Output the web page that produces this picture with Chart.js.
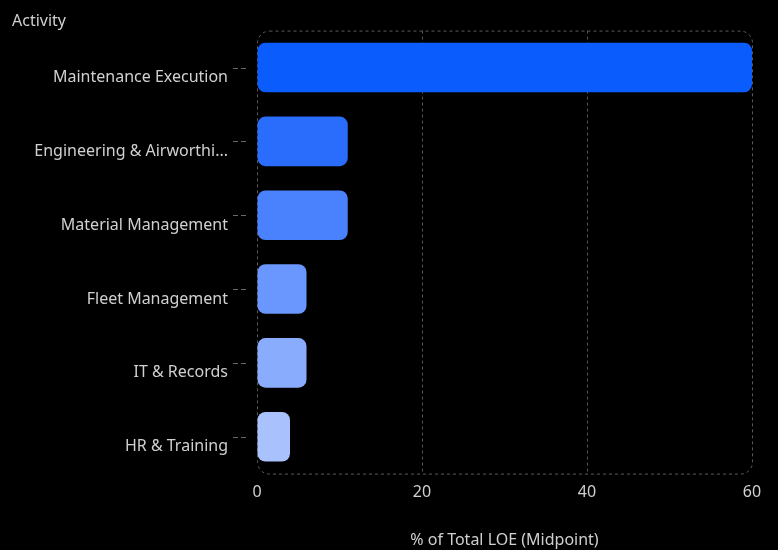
<html lang="en">
<head>
    <meta charset="UTF-8">
    <title>LOE by Activity</title>
    <style>
        html, body {
            margin: 0;
            padding: 0;
            background-color: #000;
        }
        .chart-container {
            width: 778px;
            height: 550px;
        }
    </style>
</head>
<body>
    <div class="chart-container">
        <canvas id="loeChart"></canvas>
    </div>

    <script src="https://cdn.jsdelivr.net/npm/chart.js"></script>
    <script>
        // Activities and their share of total LOE (midpoint, %)
        const activities = ['Maintenance Execution', 'Engineering & Airworthiness', 'Material Management', 'Fleet Management', 'IT & Records', 'HR & Training'];
        const loeShare = [60, 11, 11, 6, 6, 4];
        const barColors = ['#0a5cfd', '#2a6dfd', '#4a81fd', '#6a97fd', '#8aacfd', '#a9c2fd'];
        const xTicks = [0, 20, 40, 60];

        // Dashed rounded frame round the plot area, plus small dashed ticks on the y axis
        const frameAndTicks = {
            id: 'frameAndTicks',
            beforeDatasetsDraw(chart) {
                const a = chart.chartArea;
                const c = chart.ctx;
                c.save();
                c.strokeStyle = '#5a5a5a';
                c.lineWidth = 1;
                c.setLineDash([3, 3]);
                c.beginPath();
                c.roundRect(a.left + 0.5, a.top + 0.5, a.right - a.left, a.bottom - a.top, 12);
                c.stroke();

                const y = chart.scales.y;
                c.strokeStyle = '#6a6a6a';
                c.setLineDash([5, 3]);
                y.ticks.forEach((t, i) => {
                    const py = Math.round(y.getPixelForTick(i)) + 0.5;
                    c.beginPath();
                    c.moveTo(a.left - 24, py);
                    c.lineTo(a.left - 11, py);
                    c.stroke();
                });
                c.restore();
            }
        };

        const ctx = document.getElementById('loeChart').getContext('2d');
        const loeChart = new Chart(ctx, {
            type: 'bar',
            data: {
                labels: activities,
                datasets: [{
                    data: loeShare,
                    backgroundColor: barColors,
                    borderRadius: 8,
                    borderSkipped: false,
                    barPercentage: 0.84,
                    categoryPercentage: 0.8
                }]
            },
            options: {
                indexAxis: 'y',
                responsive: true,
                maintainAspectRatio: false,
                animation: false,
                layout: {
                    padding: { left: 12, right: 26, top: 0, bottom: 0 }
                },
                plugins: {
                    legend: { display: false },
                    tooltip: { enabled: false },
                    title: {
                        display: true,
                        text: 'Activity',
                        align: 'start',
                        color: '#cfcfcf',
                        font: { family: 'Noto Sans', size: 16, weight: 'normal' },
                        padding: { top: 1, bottom: 0 }
                    }
                },
                scales: {
                    x: {
                        min: 0,
                        max: 60,
                        afterBuildTicks(axis) {
                            axis.ticks = xTicks.map(v => ({ value: v }));
                        },
                        grid: {
                            // the end lines come from the rounded frame
                            color: (c) => (c.tick && (c.tick.value === 0 || c.tick.value === 60)) ? 'rgba(0,0,0,0)' : '#555',
                            drawTicks: false
                        },
                        border: { display: false },
                        ticks: {
                            color: '#d0d0d0',
                            padding: 9,
                            font: { family: 'Noto Sans', size: 16 }
                        },
                        title: {
                            display: true,
                            text: '% of Total LOE (Midpoint)',
                            color: '#cfcfcf',
                            font: { family: 'Noto Sans', size: 16 },
                            padding: { top: 20, bottom: 0 }
                        }
                    },
                    y: {
                        afterFit(axis) {
                            axis.width = 245;
                        },
                        grid: {
                            display: false
                        },
                        border: { display: false },
                        ticks: {
                            color: '#d0d0d0',
                            padding: 21,
                            labelOffset: 10,
                            font: { family: 'Noto Sans', size: 16 },
                            callback(value) {
                                const s = this.getLabelForValue(value);
                                return s.length > 25 ? s.slice(0, 23) + '...' : s;
                            }
                        }
                    }
                }
            },
            plugins: [frameAndTicks]
        });

        // dashed vertical grid lines
        loeChart.options.scales.x.grid.borderDash = [3, 3];
        loeChart.options.scales.x.border.dash = [3, 3];
        loeChart.update();
    </script>
</body>
</html>
